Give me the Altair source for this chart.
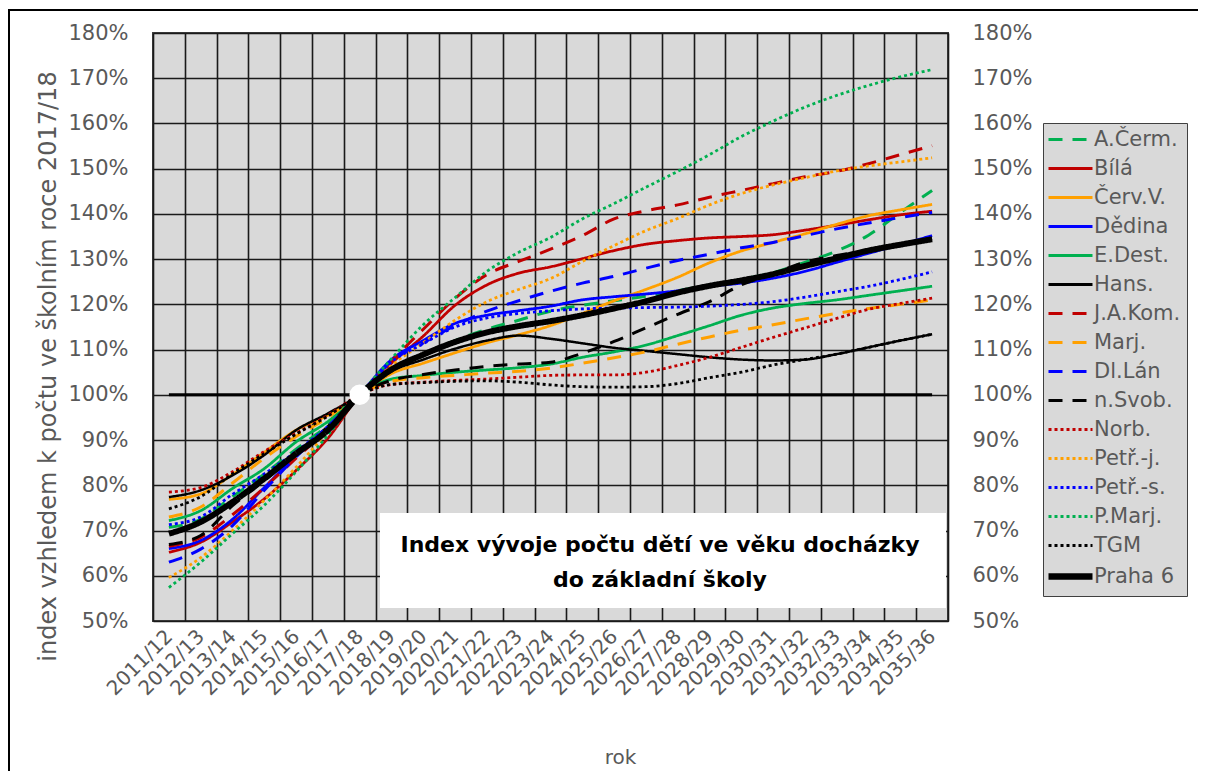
import altair as alt
import pandas as pd

# ---------------- data ----------------
years = ["2011/12", "2012/13", "2013/14", "2014/15", "2015/16", "2016/17", "2017/18",
         "2018/19", "2019/20", "2020/21", "2021/22", "2022/23", "2023/24", "2024/25",
         "2025/26", "2026/27", "2027/28", "2028/29", "2029/30", "2030/31", "2031/32",
         "2032/33", "2033/34", "2034/35", "2035/36"]

names = ["A.Čerm.", "Bílá", "Červ.V.", "Dědina", "E.Dest.", "Hans.", "J.A.Kom.", "Marj.",
         "Dl.Lán", "n.Svob.", "Norb.", "Petř.-j.", "Petř.-s.", "P.Marj.", "TGM", "Praha 6"]

a_cerm = [70.7, 72.5, 77.5, 82.5, 88.0, 93.3, 100, 105.5, 109.0, 112.0, 114.5, 116.5, 118.5,
          119.8, 120.8, 121.8, 123.0, 124.3, 125.5, 127.0, 129.3, 131.8, 135.3, 140.3, 145.2]
bila = [65.2, 67.4, 71.9, 77.0, 83.3, 90.4, 100, 107.0, 113.0, 119.8, 124.3, 126.9, 128.3,
        130.1, 131.9, 133.3, 134.1, 134.7, 135.0, 135.4, 136.4, 137.5, 138.7, 139.8, 140.6]
cerv_v = [76.9, 78.1, 82.4, 87.3, 92.2, 95.5, 100, 104.7, 107.0, 109.3, 111.5, 113.3, 115.3,
          118.0, 120.8, 123.3, 126.0, 129.2, 131.8, 133.7, 135.6, 137.7, 139.6, 140.9, 142.1]
dedina = [66.0, 67.8, 72.5, 79.5, 86.5, 92.5, 100, 107.8, 112.0, 115.8, 117.6, 118.6, 119.6,
          121.0, 121.7, 122.3, 123.0, 124.0, 124.7, 125.8, 127.3, 129.3, 131.3, 133.2, 135.2]
e_dest = [72.2, 74.4, 79.3, 83.7, 89.6, 94.1, 100, 103.5, 104.3, 105.0, 105.5, 106.0, 106.8,
          108.3, 109.5, 111.0, 113.1, 115.3, 117.6, 119.2, 120.2, 121.0, 122.0, 123.0, 124.0]
hans = [77.4, 78.9, 82.2, 86.7, 92.2, 95.9, 100, 105.2, 107.8, 110.2, 112.0, 113.1, 112.4,
        111.4, 110.4, 109.7, 109.0, 108.3, 107.8, 107.6, 107.8, 109.0, 110.5, 112.0, 113.4]
ja_kom = [66.5, 68.5, 73.5, 79.5, 86.0, 92.5, 100, 107.5, 114.5, 121.3, 126.6, 129.5, 132.2,
          135.2, 138.9, 140.7, 142.0, 143.7, 145.2, 146.7, 148.2, 149.4, 151.1, 153.1, 155.1]
marj = [73.0, 75.2, 80.5, 86.0, 90.8, 95.0, 100, 103.0, 103.8, 104.3, 104.8, 105.2, 105.9,
        107.0, 108.2, 109.5, 111.2, 112.8, 114.3, 115.5, 116.8, 118.0, 119.1, 120.0, 121.0]
dl_lan = [63.0, 65.9, 71.1, 78.9, 86.3, 93.0, 100, 107.5, 111.5, 115.3, 118.5, 120.8, 122.9,
          124.7, 126.2, 128.0, 129.7, 131.1, 132.5, 133.7, 135.2, 136.7, 138.0, 139.2, 140.3]
n_svob = [66.9, 68.9, 75.5, 81.0, 87.0, 93.0, 100, 103.2, 104.5, 105.5, 106.3, 106.8, 107.2,
          109.2, 111.8, 114.8, 117.8, 120.6, 124.3, 126.8, 129.3, 130.8, 132.0, 133.0, 134.5]
norb = [78.5, 79.5, 83.0, 87.5, 91.5, 95.5, 100, 102.3, 102.8, 103.2, 103.5, 103.9, 104.3,
        104.4, 104.4, 105.0, 106.5, 108.3, 110.5, 112.7, 114.8, 116.9, 118.9, 120.2, 121.4]
petr_j = [59.6, 64.0, 70.0, 76.7, 84.0, 91.9, 100, 106.5, 111.5, 116.5, 120.6, 123.3, 125.7,
          129.5, 133.0, 136.3, 139.0, 142.0, 144.5, 146.4, 148.0, 149.5, 150.6, 151.5, 152.4]
petr_s = [71.3, 73.0, 78.0, 82.5, 87.5, 93.0, 100, 107.3, 111.3, 115.0, 117.0, 118.0, 118.6,
          119.0, 119.2, 119.3, 119.4, 119.6, 120.0, 120.6, 121.6, 122.8, 124.0, 125.5, 127.2]
p_marj = [57.4, 63.0, 69.3, 75.6, 83.0, 91.1, 100, 108.0, 115.5, 121.5, 127.3, 131.5, 134.8,
          138.9, 142.3, 145.9, 149.4, 153.1, 157.1, 160.5, 163.6, 166.2, 168.4, 170.3, 171.9]
tgm = [74.8, 77.5, 82.5, 87.0, 91.3, 95.3, 100, 102.3, 102.7, 103.0, 103.1, 102.8, 102.2,
       101.8, 101.7, 101.8, 102.5, 103.8, 105.0, 106.6, 107.8, 109.0, 110.5, 112.0, 113.4]
praha6 = [69.3, 71.9, 76.3, 81.5, 87.0, 92.2, 100, 105.6, 108.9, 111.7, 113.8, 115.2, 116.3,
          117.6, 119.1, 120.7, 122.6, 124.1, 125.3, 126.7, 128.5, 130.2, 131.9, 133.2, 134.4]

series = [a_cerm, bila, cerv_v, dedina, e_dest, hans, ja_kom, marj,
          dl_lan, n_svob, norb, petr_j, petr_s, p_marj, tgm, praha6]

baseline = [100] * len(years)
base_year = ["2017/18"]
base_value = [100]

y_ticks = [50, 60, 70, 80, 90, 100, 110, 120, 130, 140, 150, 160, 170, 180]

# ---------------- styles ----------------
GREEN, RED, ORANGE, BLUE, BLACK = "#00b050", "#c00000", "#ffa000", "#0000ff", "#000000"
colors = [GREEN, RED, ORANGE, BLUE, GREEN, BLACK, RED, ORANGE,
          BLUE, BLACK, RED, ORANGE, BLUE, GREEN, BLACK, BLACK]
SOLID, DASH, DOT = [1, 0], [14, 10], [3, 3]
dashes = [DASH, SOLID, SOLID, SOLID, SOLID, SOLID, DASH, DASH,
          DASH, DASH, DOT, DOT, DOT, DOT, DOT, SOLID]
widths = [3, 2.8, 2.8, 2.8, 2.8, 2.5, 3, 3, 3, 3, 2.8, 2.8, 2.8, 2.8, 2.8, 6]

FONT = "DejaVu Sans"
GREY = "#595959"
GRID = "#1a1a1a"

rows = []
for n, vals, w in zip(names, series, widths):
    for yr, v in zip(years, vals):
        rows.append({"rok": yr, "index": v, "skola": n, "w": w})
df = pd.DataFrame(rows)
df_base = pd.DataFrame({"rok": years, "index": baseline})
df_pt = pd.DataFrame({"rok": base_year, "index": base_value})

x_scale = alt.Scale(type="band", domain=years, paddingInner=0, paddingOuter=0)
y_scale = alt.Scale(domain=[50, 180], nice=False, zero=False)

x_axis = alt.Axis(title="rok", tickBand="extent", grid=True, gridColor=GRID,
                  gridWidth=1.6, ticks=False, domain=False, labelAngle=-45,
                  labelAlign="right", labelBaseline="middle", labelPadding=12,
                  labelFont=FONT, labelFontSize=20, labelColor=GREY,
                  titleFont=FONT, titleFontSize=20, titleColor=GREY,
                  titleFontWeight="normal", titleX=467, titleY=136,
                  titleAlign="center", titleBaseline="middle")


def x_enc():
    return alt.X("rok:N", sort=years, scale=x_scale, axis=x_axis, bandPosition=0.5)


legend = alt.Legend(title=None, orient="none", legendX=890, legendY=90,
                    fillColor="#d9d9d9", strokeColor="#404040", padding=6,
                    symbolType="M-1,0L3,0", symbolSize=484, labelFont=FONT,
                    labelFontSize=21, labelColor=GREY, labelOffset=24,
                    rowPadding=7, labelLimit=300,
                    symbolStrokeWidth=alt.ExprRef(expr="datum.value === 'Praha 6' ? 6.5 : 3"))

base_layer = alt.Chart(df_base).mark_line(color="black", strokeWidth=3).encode(
    x=x_enc(),
    y=alt.Y("index:Q", scale=y_scale,
            axis=alt.Axis(orient="right", values=y_ticks, labelExpr="datum.value + '%'",
                          grid=False, ticks=False, domain=False, labelPadding=24,
                          labelFont=FONT, labelFontSize=21, labelColor=GREY, title=None)),
)

lines = alt.Chart(df).mark_line(interpolate="monotone").encode(
    x=x_enc(),
    y=alt.Y("index:Q", scale=y_scale,
            axis=alt.Axis(orient="left", values=y_ticks, labelExpr="datum.value + '%'",
                          grid=True, gridColor=GRID, gridWidth=1.6, ticks=False,
                          domain=False, labelPadding=25, labelFont=FONT, labelFontSize=21,
                          labelColor=GREY,
                          title="index vzhledem k počtu ve školním roce 2017/18",
                          titleFont=FONT, titleFontSize=24, titleColor=GREY,
                          titleFontWeight="normal", titleX=-105, titleY=333,
                          titleAlign="center", titleBaseline="middle", titleAngle=-90)),
    color=alt.Color("skola:N", scale=alt.Scale(domain=names, range=colors), legend=legend),
    strokeDash=alt.StrokeDash("skola:N", scale=alt.Scale(domain=names, range=dashes),
                              legend=legend),
    strokeWidth=alt.StrokeWidth("w:Q", scale=None),
)

point = alt.Chart(df_pt).mark_point(filled=True, color="white", opacity=1, size=420,
                                    shape="circle").encode(
    x=x_enc(),
    y=alt.Y("index:Q", scale=y_scale, axis=None),
)

one = pd.DataFrame({"k": [0]})
box = alt.Chart(one).mark_rect(color="white").encode(
    x=alt.value(227), x2=alt.value(793), y=alt.value(480), y2=alt.value(575))
box_text = alt.Chart(one).mark_text(
    text="Index vývoje počtu dětí ve věku docházky\ndo základní školy", lineBreak="\n",
    font=FONT, fontSize=22, fontWeight="bold", color="black", align="center",
    baseline="middle", lineHeight=35).encode(x=alt.value(507), y=alt.value(512))

frame_top = alt.Chart(one).mark_rule(color="black", strokeWidth=2).encode(
    x=alt.value(-145), x2=alt.value(1053), y=alt.value(-23))
frame_left = alt.Chart(one).mark_rule(color="black", strokeWidth=2).encode(
    x=alt.value(-144), y=alt.value(-23), y2=alt.value(760))

chart = alt.layer(base_layer, lines, point, box, box_text, frame_top, frame_left).resolve_scale(
    y="shared").resolve_axis(y="independent").properties(
    width=795, height=588,
    padding={"left": 145, "top": 25, "right": 250, "bottom": 150},
    autosize=alt.AutoSizeParams(type="none"),
    background="white",
).configure_view(fill="#d9d9d9", stroke="#404040", strokeWidth=2)

chart.save("out.html", embed_options={"renderer": "svg", "actions": False})
